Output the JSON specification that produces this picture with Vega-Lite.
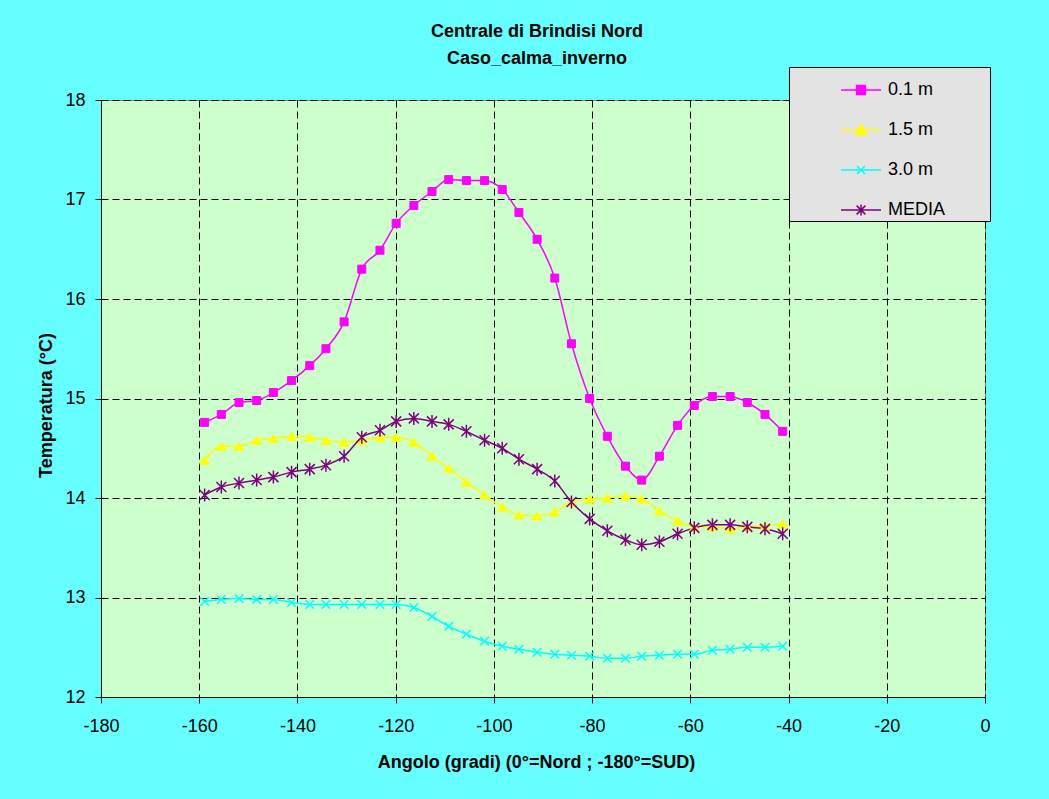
{
  "$schema": "https://vega.github.io/schema/vega-lite/v6.json",
  "autosize": {"type": "none"},
  "width": 884,
  "height": 597,
  "padding": {"left": 101, "top": 100, "right": 64, "bottom": 102},
  "background": "#66FFFF",
  "config": {
    "font": "Liberation Sans",
    "view": {"fill": "#CCFFCC", "stroke": "#808080", "strokeWidth": 1},
    "axis": {"labelFlush": false, "labelOverlap": false}
  },
  "title": {
    "text": ["Centrale di Brindisi Nord", "Caso_calma_inverno"],
    "font": "Liberation Sans",
    "fontSize": 18,
    "fontWeight": "bold",
    "color": "#000000",
    "anchor": "middle",
    "lineHeight": 27,
    "offset": 30,
    "dy": 31,
    "dx": -6
  },
  "data": {
    "values": [
      {"a": -158.9, "s": "0.1 m", "t": 14.76}, {"a": -155.5, "s": "0.1 m", "t": 14.84}, {"a": -151.9, "s": "0.1 m", "t": 14.96}, {"a": -148.3, "s": "0.1 m", "t": 14.98}, {"a": -144.9, "s": "0.1 m", "t": 15.06}, {"a": -141.2, "s": "0.1 m", "t": 15.18}, {"a": -137.5, "s": "0.1 m", "t": 15.33}, {"a": -134.2, "s": "0.1 m", "t": 15.50}, {"a": -130.5, "s": "0.1 m", "t": 15.77}, {"a": -126.9, "s": "0.1 m", "t": 16.30}, {"a": -123.2, "s": "0.1 m", "t": 16.49}, {"a": -119.9, "s": "0.1 m", "t": 16.76}, {"a": -116.3, "s": "0.1 m", "t": 16.94}, {"a": -112.6, "s": "0.1 m", "t": 17.08}, {"a": -109.2, "s": "0.1 m", "t": 17.20}, {"a": -105.6, "s": "0.1 m", "t": 17.19}, {"a": -101.9, "s": "0.1 m", "t": 17.19}, {"a": -98.3, "s": "0.1 m", "t": 17.10}, {"a": -94.9, "s": "0.1 m", "t": 16.87}, {"a": -91.2, "s": "0.1 m", "t": 16.60}, {"a": -87.6, "s": "0.1 m", "t": 16.21}, {"a": -84.2, "s": "0.1 m", "t": 15.55}, {"a": -80.5, "s": "0.1 m", "t": 15.00}, {"a": -76.9, "s": "0.1 m", "t": 14.62}, {"a": -73.2, "s": "0.1 m", "t": 14.32}, {"a": -69.9, "s": "0.1 m", "t": 14.18}, {"a": -66.3, "s": "0.1 m", "t": 14.42}, {"a": -62.6, "s": "0.1 m", "t": 14.73}, {"a": -59.2, "s": "0.1 m", "t": 14.93}, {"a": -55.5, "s": "0.1 m", "t": 15.02}, {"a": -51.9, "s": "0.1 m", "t": 15.02}, {"a": -48.4, "s": "0.1 m", "t": 14.96}, {"a": -44.8, "s": "0.1 m", "t": 14.84}, {"a": -41.2, "s": "0.1 m", "t": 14.67},
      {"a": -158.9, "s": "1.5 m", "t": 14.38}, {"a": -155.5, "s": "1.5 m", "t": 14.52}, {"a": -151.9, "s": "1.5 m", "t": 14.52}, {"a": -148.3, "s": "1.5 m", "t": 14.58}, {"a": -144.9, "s": "1.5 m", "t": 14.60}, {"a": -141.2, "s": "1.5 m", "t": 14.62}, {"a": -137.5, "s": "1.5 m", "t": 14.61}, {"a": -134.2, "s": "1.5 m", "t": 14.58}, {"a": -130.5, "s": "1.5 m", "t": 14.56}, {"a": -126.9, "s": "1.5 m", "t": 14.58}, {"a": -123.2, "s": "1.5 m", "t": 14.61}, {"a": -119.9, "s": "1.5 m", "t": 14.61}, {"a": -116.3, "s": "1.5 m", "t": 14.56}, {"a": -112.6, "s": "1.5 m", "t": 14.42}, {"a": -109.2, "s": "1.5 m", "t": 14.30}, {"a": -105.6, "s": "1.5 m", "t": 14.16}, {"a": -101.9, "s": "1.5 m", "t": 14.03}, {"a": -98.3, "s": "1.5 m", "t": 13.91}, {"a": -94.9, "s": "1.5 m", "t": 13.83}, {"a": -91.2, "s": "1.5 m", "t": 13.82}, {"a": -87.6, "s": "1.5 m", "t": 13.86}, {"a": -84.2, "s": "1.5 m", "t": 13.96}, {"a": -80.5, "s": "1.5 m", "t": 13.99}, {"a": -76.9, "s": "1.5 m", "t": 14.00}, {"a": -73.2, "s": "1.5 m", "t": 14.02}, {"a": -69.9, "s": "1.5 m", "t": 13.99}, {"a": -66.3, "s": "1.5 m", "t": 13.87}, {"a": -62.6, "s": "1.5 m", "t": 13.77}, {"a": -59.2, "s": "1.5 m", "t": 13.71}, {"a": -55.5, "s": "1.5 m", "t": 13.71}, {"a": -51.9, "s": "1.5 m", "t": 13.69}, {"a": -48.4, "s": "1.5 m", "t": 13.71}, {"a": -44.8, "s": "1.5 m", "t": 13.72}, {"a": -41.2, "s": "1.5 m", "t": 13.74},
      {"a": -158.9, "s": "3.0 m", "t": 12.96}, {"a": -155.5, "s": "3.0 m", "t": 12.98}, {"a": -151.9, "s": "3.0 m", "t": 12.99}, {"a": -148.3, "s": "3.0 m", "t": 12.98}, {"a": -144.9, "s": "3.0 m", "t": 12.98}, {"a": -141.2, "s": "3.0 m", "t": 12.95}, {"a": -137.5, "s": "3.0 m", "t": 12.93}, {"a": -134.2, "s": "3.0 m", "t": 12.93}, {"a": -130.5, "s": "3.0 m", "t": 12.93}, {"a": -126.9, "s": "3.0 m", "t": 12.93}, {"a": -123.2, "s": "3.0 m", "t": 12.93}, {"a": -119.9, "s": "3.0 m", "t": 12.93}, {"a": -116.3, "s": "3.0 m", "t": 12.90}, {"a": -112.6, "s": "3.0 m", "t": 12.81}, {"a": -109.2, "s": "3.0 m", "t": 12.71}, {"a": -105.6, "s": "3.0 m", "t": 12.63}, {"a": -101.9, "s": "3.0 m", "t": 12.56}, {"a": -98.3, "s": "3.0 m", "t": 12.51}, {"a": -94.9, "s": "3.0 m", "t": 12.48}, {"a": -91.2, "s": "3.0 m", "t": 12.45}, {"a": -87.6, "s": "3.0 m", "t": 12.43}, {"a": -84.2, "s": "3.0 m", "t": 12.42}, {"a": -80.5, "s": "3.0 m", "t": 12.41}, {"a": -76.9, "s": "3.0 m", "t": 12.39}, {"a": -73.2, "s": "3.0 m", "t": 12.39}, {"a": -69.9, "s": "3.0 m", "t": 12.41}, {"a": -66.3, "s": "3.0 m", "t": 12.42}, {"a": -62.6, "s": "3.0 m", "t": 12.43}, {"a": -59.2, "s": "3.0 m", "t": 12.43}, {"a": -55.5, "s": "3.0 m", "t": 12.47}, {"a": -51.9, "s": "3.0 m", "t": 12.48}, {"a": -48.4, "s": "3.0 m", "t": 12.50}, {"a": -44.8, "s": "3.0 m", "t": 12.50}, {"a": -41.2, "s": "3.0 m", "t": 12.51},
      {"a": -158.9, "s": "MEDIA", "t": 14.03}, {"a": -155.5, "s": "MEDIA", "t": 14.11}, {"a": -151.9, "s": "MEDIA", "t": 14.15}, {"a": -148.3, "s": "MEDIA", "t": 14.18}, {"a": -144.9, "s": "MEDIA", "t": 14.21}, {"a": -141.2, "s": "MEDIA", "t": 14.26}, {"a": -137.5, "s": "MEDIA", "t": 14.29}, {"a": -134.2, "s": "MEDIA", "t": 14.33}, {"a": -130.5, "s": "MEDIA", "t": 14.42}, {"a": -126.9, "s": "MEDIA", "t": 14.61}, {"a": -123.2, "s": "MEDIA", "t": 14.68}, {"a": -119.9, "s": "MEDIA", "t": 14.77}, {"a": -116.3, "s": "MEDIA", "t": 14.80}, {"a": -112.6, "s": "MEDIA", "t": 14.77}, {"a": -109.2, "s": "MEDIA", "t": 14.74}, {"a": -105.6, "s": "MEDIA", "t": 14.67}, {"a": -101.9, "s": "MEDIA", "t": 14.58}, {"a": -98.3, "s": "MEDIA", "t": 14.50}, {"a": -94.9, "s": "MEDIA", "t": 14.39}, {"a": -91.2, "s": "MEDIA", "t": 14.29}, {"a": -87.6, "s": "MEDIA", "t": 14.17}, {"a": -84.2, "s": "MEDIA", "t": 13.96}, {"a": -80.5, "s": "MEDIA", "t": 13.79}, {"a": -76.9, "s": "MEDIA", "t": 13.67}, {"a": -73.2, "s": "MEDIA", "t": 13.58}, {"a": -69.9, "s": "MEDIA", "t": 13.53}, {"a": -66.3, "s": "MEDIA", "t": 13.56}, {"a": -62.6, "s": "MEDIA", "t": 13.64}, {"a": -59.2, "s": "MEDIA", "t": 13.70}, {"a": -55.5, "s": "MEDIA", "t": 13.73}, {"a": -51.9, "s": "MEDIA", "t": 13.73}, {"a": -48.4, "s": "MEDIA", "t": 13.71}, {"a": -44.8, "s": "MEDIA", "t": 13.69}, {"a": -41.2, "s": "MEDIA", "t": 13.64}
    ]
  },
  "encoding": {
    "x": {
      "field": "a",
      "type": "quantitative",
      "scale": {"domain": [-180, 0], "nice": false, "zero": false},
      "axis": {
        "values": [-180, -160, -140, -120, -100, -80, -60, -40, -20, 0],
        "labelExpr": "'' + datum.value",
        "grid": true,
        "gridColor": "#000000",
        "gridDash": [7, 4],
        "gridWidth": 1,
        "domainColor": "#000000",
        "domainWidth": 1,
        "tickColor": "#000000",
        "tickSize": 6,
        "labelFont": "Liberation Sans",
        "labelFontSize": 18,
        "labelColor": "#000000",
        "labelPadding": 14,
        "title": "Angolo (gradi) (0°=Nord ; -180°=SUD)",
        "titleFont": "Liberation Sans",
        "titleFontSize": 18,
        "titleFontWeight": "bold",
        "titleColor": "#000000",
        "titleX": 435,
        "titleY": 70,
        "titleAlign": "center",
        "titleBaseline": "alphabetic"
      }
    },
    "y": {
      "field": "t",
      "type": "quantitative",
      "scale": {"domain": [12, 18], "nice": false, "zero": false},
      "axis": {
        "values": [12, 13, 14, 15, 16, 17, 18],
        "grid": true,
        "gridColor": "#000000",
        "gridDash": [7, 4],
        "gridWidth": 1,
        "domainColor": "#000000",
        "domainWidth": 1,
        "tickColor": "#000000",
        "tickSize": 6,
        "labelFont": "Liberation Sans",
        "labelFontSize": 18,
        "labelColor": "#000000",
        "labelPadding": 10,
        "title": "Temperatura (°C)",
        "titleFont": "Liberation Sans",
        "titleFontSize": 18,
        "titleFontWeight": "bold",
        "titleColor": "#000000",
        "titleAngle": -90,
        "titleX": -50,
        "titleY": 305,
        "titleAlign": "center",
        "titleBaseline": "alphabetic"
      }
    }
  },
  "layer": [
    {
      "mark": {"type": "line", "strokeWidth": 1.5, "interpolate": "monotone"},
      "encoding": {
        "color": {
          "field": "s",
          "type": "nominal",
          "scale": {"domain": ["0.1 m", "1.5 m", "3.0 m", "MEDIA"], "range": ["#FF00FF", "#FFFF00", "#00FFFF", "#800080"]},
          "legend": {
            "orient": "none",
            "legendX": 688,
            "legendY": -33,
            "title": null,
            "fillColor": "#E3E3E3",
            "strokeColor": "#000000",
            "padding": 2,
            "rowPadding": 10,
            "symbolSize": 1600,
            "symbolOffset": 49,
            "symbolStrokeWidth": 1.5,
            "labelOffset": 6,
            "labelFont": "Liberation Sans",
            "labelFontSize": 18,
            "labelColor": "#000000",
            "encode": {
              "symbols": {
                "update": {
                  "shape": {"signal": "datum.value == '0.1 m' ? 'M-1,0L1,0M-0.22,-0.22L0.22,-0.22L0.22,0.22L-0.22,0.22ZM6.2,0L6.2,0' : datum.value == '1.5 m' ? 'M-1,0L1,0M0,-0.27L0.28,0.22L-0.28,0.22ZM6.2,0L6.2,0' : datum.value == '3.0 m' ? 'M-1,0L1,0M-0.2,-0.2L0.2,0.2M-0.2,0.2L0.2,-0.2M6.2,0L6.2,0' : 'M-1,0L1,0M-0.22,-0.22L0.22,0.22M-0.22,0.22L0.22,-0.22M0,-0.28L0,0.28M6.2,0L6.2,0'"},
                  "fill": {"signal": "scale('color', datum.value)"},
                  "stroke": {"signal": "scale('color', datum.value)"},
                  "strokeWidth": {"value": 1.5},
                  "opacity": {"value": 1}
                }
              }
            }
          }
        }
      }
    },
    {
      "transform": [{"filter": "datum.s == '0.1 m'"}],
      "mark": {"type": "point", "shape": "square", "filled": true, "fill": "#FF00FF", "stroke": "#FF00FF", "strokeWidth": 1, "size": 64, "opacity": 1}
    },
    {
      "transform": [{"filter": "datum.s == '1.5 m'"}],
      "mark": {"type": "point", "shape": "triangle-up", "filled": true, "fill": "#FFFF00", "stroke": "#FFFF00", "strokeWidth": 1, "size": 90, "opacity": 1}
    },
    {
      "transform": [{"filter": "datum.s == '3.0 m'"}],
      "mark": {"type": "point", "shape": "M-1,-1L1,1M-1,1L1,-1", "filled": false, "stroke": "#00FFFF", "strokeWidth": 1.5, "size": 72, "opacity": 1}
    },
    {
      "transform": [{"filter": "datum.s == 'MEDIA'"}],
      "mark": {"type": "point", "shape": "M-1,-1L1,1M-1,1L1,-1M0,-1.3L0,1.3", "filled": false, "stroke": "#800080", "strokeWidth": 1.5, "size": 100, "opacity": 1}
    }
  ]
}
